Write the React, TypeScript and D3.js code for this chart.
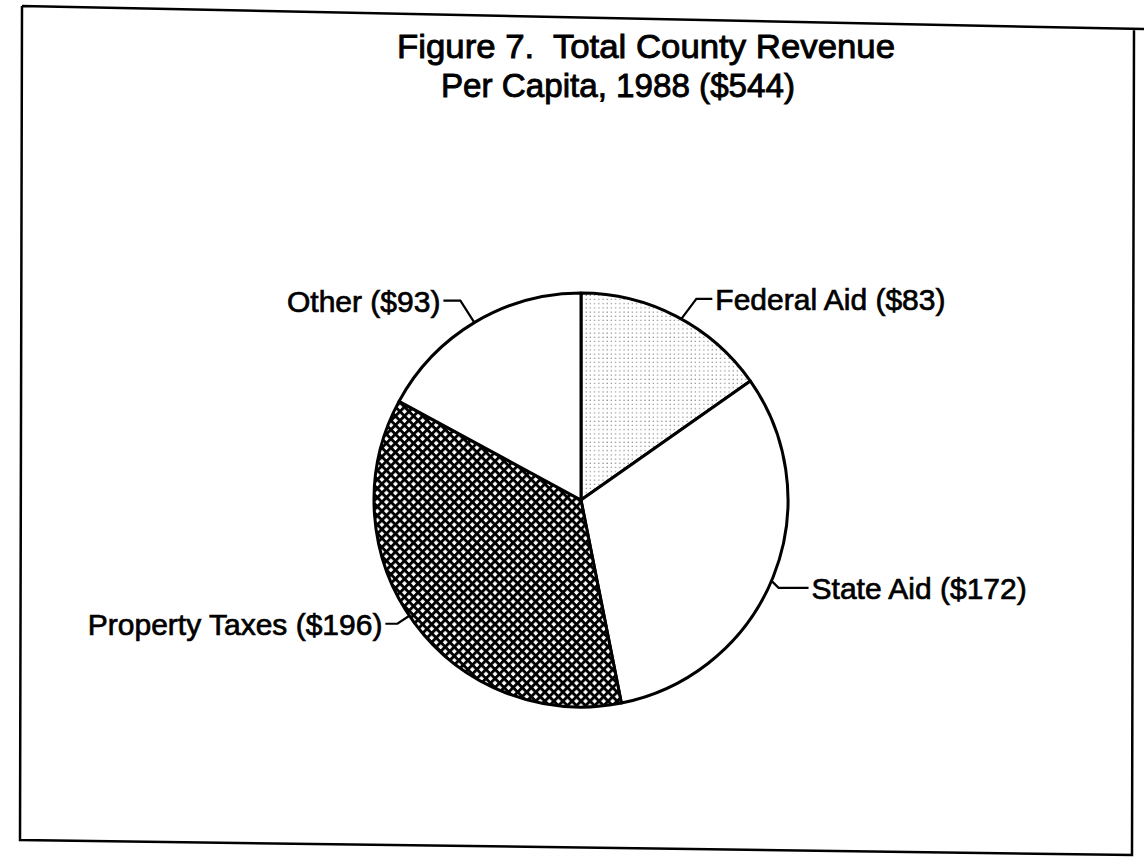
import React from "react";
import * as d3 from "d3";

const categories = ["Federal Aid", "State Aid", "Property Taxes", "Other"];
const values = [83, 172, 196, 93];
const titleLines = ["Figure 7.\u00A0 Total County Revenue", "Per Capita, 1988 ($544)"];
const fills = ["url(#dots)", "#ffffff", "url(#cross)", "#ffffff"];
// leader anchor angle (degrees clockwise from top), elbow offset, tail length
const leaderAngles = [29, 113, 236, 329];
const elbows: [number, number][] = [[15, -20], [7, 7], [-12, 8], [-14, -22]];
const tails = [16, 30, -12, -17];

const W = 1144, H = 866;
const cx = 581, cy = 500, R = 207;

export default function App() {
  const pie = d3.pie<number>().sort(null).value((d) => d)(values);
  const arc = d3.arc<d3.PieArcDatum<number>>().innerRadius(0).outerRadius(R);
  const font = "'Liberation Sans', Arial, Helvetica, sans-serif";
  const ang = d3.scaleLinear().domain([0, 360]).range([0, 2 * Math.PI]);

  return (
    <svg width={W} height={H} style={{ position: "absolute", left: 0, top: 0, background: "#fff" }}>
      <defs>
        <pattern id="dots" width="4.2" height="4.2" patternUnits="userSpaceOnUse">
          <rect width="4.2" height="4.2" fill="#fff" />
          <circle cx="1" cy="1" r="0.65" fill="#666" />
        </pattern>
        <pattern id="cross" width="6.4" height="6.4" patternUnits="userSpaceOnUse" patternTransform="rotate(45)">
          <rect width="6.4" height="6.4" fill="#fff" />
          <rect x="0" y="0" width="6.4" height="2.9" fill="#000" />
          <rect x="0" y="0" width="2.9" height="6.4" fill="#000" />
        </pattern>
      </defs>
      <rect width={W} height={H} fill="#fff" />
      {/* tilted frame */}
      <path d="M22,6 L1144,29 M22,6 L20,840 L1132,855 L1134,29" fill="none" stroke="#000" strokeWidth={2.5} />
      <g fontFamily={font} fill="#000" textAnchor="middle" fontSize={34} stroke="#000" strokeWidth={0.9}>
        <text x={646} y={58} textLength={498} lengthAdjust="spacingAndGlyphs">{titleLines[0]}</text>
        <text x={618} y={97} textLength={354} lengthAdjust="spacingAndGlyphs">{titleLines[1]}</text>
      </g>
      <g transform={`translate(${cx},${cy})`}>
        {pie.map((p, i) => (
          <path key={categories[i]} d={arc(p) || ""} fill={fills[i]} stroke="#000" strokeWidth={3} strokeLinejoin="round" />
        ))}
        {pie.map((p, i) => {
          const a = ang(leaderAngles[i]);
          const x0 = Math.sin(a) * R, y0 = -Math.cos(a) * R;
          const x1 = x0 + elbows[i][0], y1 = y0 + elbows[i][1];
          const x2 = x1 + tails[i];
          const right = tails[i] > 0;
          return (
            <g key={"l" + i}>
              <polyline points={`${x0},${y0} ${x1},${y1} ${x2},${y1}`} fill="none" stroke="#000" strokeWidth={2.2} />
              <text x={x2 + (right ? 3 : -3)} y={y1 + 11} textAnchor={right ? "start" : "end"} fontFamily={font} fontSize={30} stroke="#000" strokeWidth={0.7}>
                {`${categories[i]} ($${p.data})`}
              </text>
            </g>
          );
        })}
      </g>
    </svg>
  );
}
